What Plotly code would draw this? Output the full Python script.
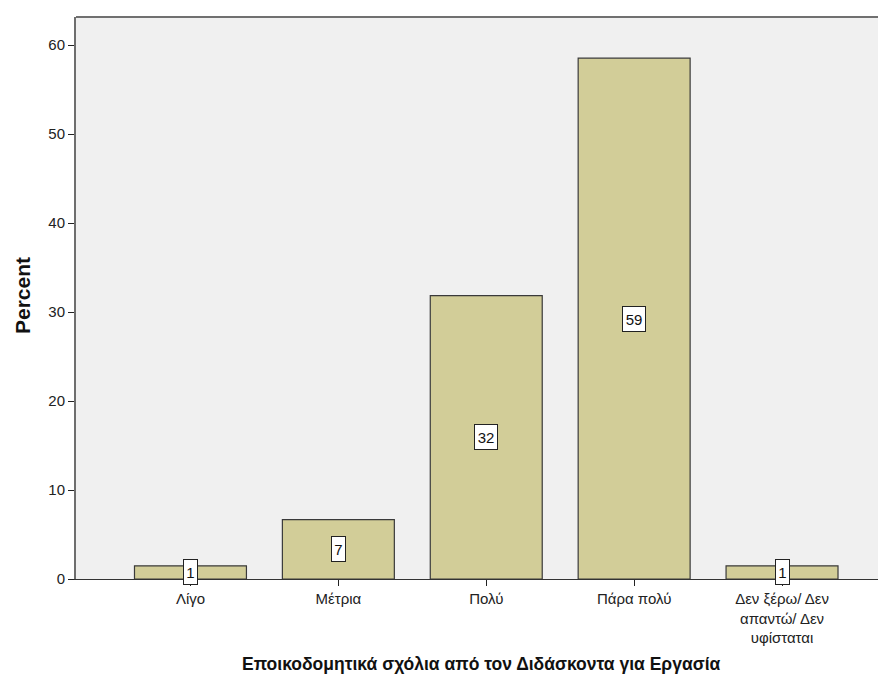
import plotly.graph_objects as go

categories = ["Λίγο", "Μέτρια", "Πολύ", "Πάρα πολύ", "Δεν ξέρω/ Δεν<br>απαντώ/ Δεν<br>υφίσταται"]
percent = [1.48, 6.67, 31.85, 58.52, 1.48]
labels = ["1", "7", "32", "59", "1"]
y_ticks = [0, 10, 20, 30, 40, 50, 60]

FONT = "Liberation Sans, Arial, sans-serif"
x = list(range(len(categories)))

# The page body has an 8px margin; size the figure so the plot lands where the reference has it.
W, H = 878, 670
ML, MR, MT, MB = 68, 0, 9, 99
plot_w = W - ML - MR
plot_h = H - MT - MB

fig = go.Figure()
fig.add_trace(go.Bar(
    x=x, y=percent, width=0.757,
    marker=dict(color="#D2CD98", line=dict(color="#3a3a3a", width=1.2)),
    hoverinfo="skip",
))

for xi, v, t in zip(x, percent, labels):
    fig.add_annotation(
        x=xi, y=v / 2, text=t, showarrow=False,
        font=dict(family=FONT, size=15, color="#111"),
        width=9 * len(t), height=20, align="center", valign="middle",
        bgcolor="white", bordercolor="#222", borderwidth=1, borderpad=2,
    )

fig.add_annotation(
    x=0.5, xref="paper", y=(H - MB - 656) / plot_h, yref="paper",
    text="<b>Εποικοδομητικά σχόλια από τον Διδάσκοντα για Εργασία</b>",
    showarrow=False, font=dict(family=FONT, size=17.5, color="#111"), yanchor="middle",
)
fig.add_annotation(
    x=(14 - ML) / plot_w, xref="paper", y=(H - MB - 288) / plot_h, yref="paper",
    text="<b>Percent</b>", textangle=-90,
    showarrow=False, font=dict(family=FONT, size=21, color="#111"),
    xanchor="center", yanchor="middle",
)

fig.update_layout(
    width=W, height=H,
    margin=dict(l=ML, r=MR, t=MT, b=MB),
    paper_bgcolor="white", plot_bgcolor="#F0F0F0",
    showlegend=False,
    font=dict(family=FONT, size=15, color="#222"),
    xaxis=dict(
        range=[-0.774, 4.703],
        tickmode="array", tickvals=x, ticktext=categories,
        ticks="outside", ticklen=6, tickcolor="#222", tickwidth=1,
        showline=True, linecolor="#333", linewidth=1,
        showgrid=False, zeroline=False,
        tickfont=dict(size=15),
    ),
    yaxis=dict(
        range=[0, 63.15],
        tickmode="array", tickvals=y_ticks,
        ticks="outside", ticklen=6, tickcolor="#222", tickwidth=1,
        showline=True, linecolor="#6e6e6e", linewidth=2,
        showgrid=False, zeroline=False,
        tickfont=dict(size=15),
    ),
    shapes=[dict(type="line", xref="paper", yref="paper", x0=0, x1=1, y0=1, y1=1,
                 line=dict(color="#707070", width=2))],
)

fig.write_html("out.html")
